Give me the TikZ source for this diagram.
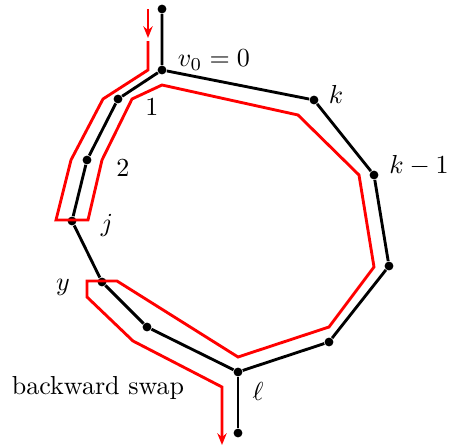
\documentclass[tikz,border=0pt]{standalone}
\usetikzlibrary{arrows.meta}
\begin{document}
\begin{tikzpicture}[x=0.0135cm,y=-0.0135cm,
  dot/.style={circle,fill=black,inner sep=0pt,minimum size=3.4pt},
  blk/.style={line width=1.1pt,black},
  redp/.style={line width=1.1pt,red,line join=miter},
  tip/.style={-{Stealth[length=4.5pt,width=3.6pt]}},
  lbl/.style={inner sep=0pt}]
\useasboundingbox (0,0) rectangle (449,446);
% vertices
\node[dot] (top) at (162,9) {};
\node[dot] (v0) at (162,70) {};
\node[dot] (n1) at (118,99) {};
\node[dot] (n2) at (87,160) {};
\node[dot] (nj) at (72,221) {};
\node[dot] (ny) at (102,282) {};
\node[dot] (na) at (147,327) {};
\node[dot] (nl) at (238,372) {};
\node[dot] (bot) at (238,433) {};
\node[dot] (nb) at (329,342) {};
\node[dot] (nc) at (389,266) {};
\node[dot] (nk1) at (374,175) {};
\node[dot] (nk) at (314,100) {};
% black edges
\draw[blk] (top) -- (v0) -- (n1) -- (n2) -- (nj) -- (ny) -- (na) -- (nl) -- (nb) -- (nc) -- (nk1) -- (nk) -- (v0);
\draw[blk] (nl) -- (bot);
% labels
\node[lbl] (lv0) at (214,60) {$v_0=0$};
\node[lbl] (l1) at (152,107) {$1$};
\node[lbl] (l2) at (123,168) {$2$};
\node[lbl] (lj) at (107,225) {$j$};
\node[lbl] (lk) at (336,94) {$k$};
\node[lbl] (lk1) at (419,166) {$k-1$};
\node[lbl] (ly) at (63,287) {$y$};
\node[lbl] (ll) at (258,391) {$\ell$};
\node[lbl] (lbs) at (98,388) {backward swap};
% red path
\coordinate (ra0) at (148,9);
\coordinate (ra1) at (148,38);
\draw[redp,tip] (ra0) -- (ra1);
\coordinate (r0) at (148,41);
\coordinate (r1) at (148,70);
\coordinate (r2) at (103,99);
\coordinate (r3) at (71,160);
\coordinate (r4) at (56,220);
\coordinate (r5) at (88,220);
\coordinate (r6) at (102,160);
\coordinate (r7) at (132,99);
\coordinate (r8) at (162,85);
\coordinate (r9) at (298,115);
\coordinate (r10) at (359,175);
\coordinate (r11) at (374,267);
\coordinate (r12) at (329,327);
\coordinate (r13) at (238,357);
\coordinate (r14) at (117,281);
\coordinate (r15) at (87,281);
\coordinate (r16) at (87,297);
\coordinate (r17) at (133,341);
\coordinate (r18) at (222,387);
\coordinate (r19) at (222,445);
\draw[redp,tip] (r0) -- (r1) -- (r2) -- (r3) -- (r4) -- (r5) -- (r6) -- (r7) -- (r8) -- (r9) -- (r10) -- (r11) -- (r12) -- (r13) -- (r14) -- (r15) -- (r16) -- (r17) -- (r18) -- (r19);
\end{tikzpicture}
\end{document}
